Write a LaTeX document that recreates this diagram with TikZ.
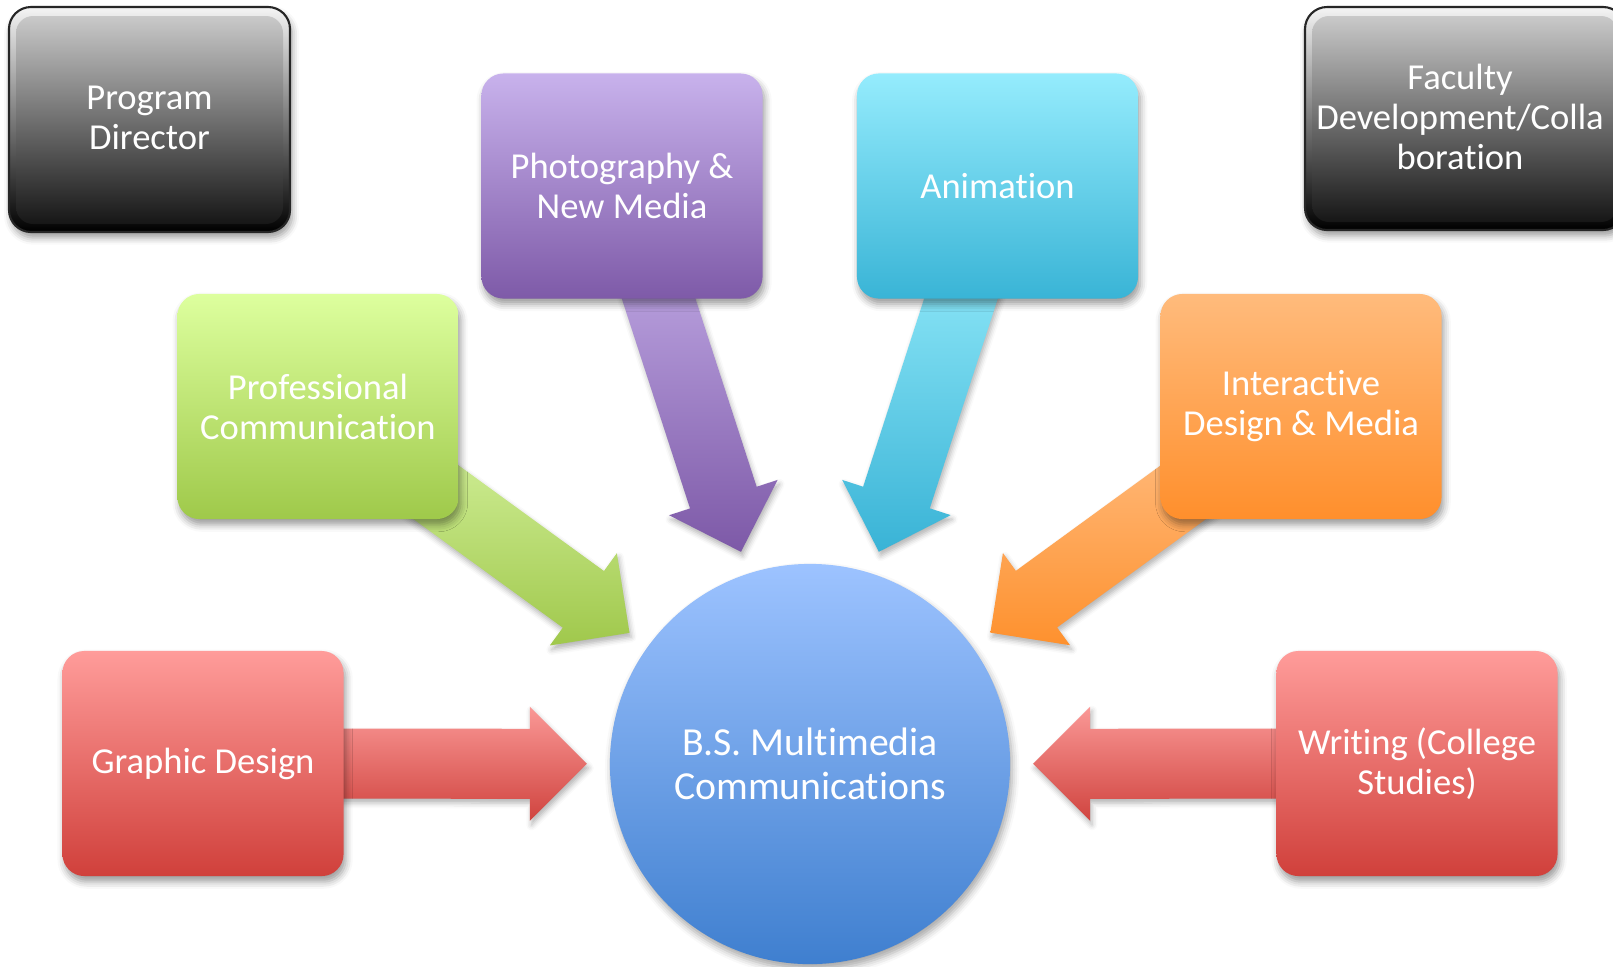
\documentclass[tikz,border=0pt]{standalone}
\usepackage{fontspec}
\newfontfamily\labelfont[Ligatures={NoCommon,NoContextual},Contextuals=NoAlternate]{Carlito}
\usetikzlibrary{calc,shadows.blur,backgrounds}

% box colours
\definecolor{grnTop}{HTML}{DDFF9E}\definecolor{grnBot}{HTML}{9FC94A}
\definecolor{purTop}{HTML}{C8B2EC}\definecolor{purBot}{HTML}{7E5AA8}
\definecolor{cyaTop}{HTML}{95ECFD}\definecolor{cyaBot}{HTML}{39B4D6}
\definecolor{orgTop}{HTML}{FFBB7C}\definecolor{orgBot}{HTML}{FF8F2C}
\definecolor{redTop}{HTML}{FF9C9A}\definecolor{redBot}{HTML}{D0403B}
\definecolor{hubTop}{HTML}{9DC3FF}\definecolor{hubBot}{HTML}{3F7FCF}
% arrow colours
\definecolor{grnArrTop}{HTML}{D2F09A}\definecolor{grnArrBot}{HTML}{A0C84C}
\definecolor{purArrTop}{HTML}{BBA3E0}\definecolor{purArrBot}{HTML}{7D59A7}
\definecolor{cyaArrTop}{HTML}{8CE6F7}\definecolor{cyaArrBot}{HTML}{39B3D6}
\definecolor{orgArrTop}{HTML}{FFBB7E}\definecolor{orgArrBot}{HTML}{FE912E}
\definecolor{redArrTop}{HTML}{FA9896}\definecolor{redArrBot}{HTML}{D0443F}
% bevelled dark boxes
\definecolor{rimTop}{HTML}{F4F4F4}\definecolor{rimBot}{HTML}{000000}
\definecolor{faceTop}{HTML}{C9C9C9}\definecolor{faceBot}{HTML}{161616}

% block arrow from a box towards the hub
\newcommand\feeder[3]{%
  \coordinate (ft) at ($(hub.center)!2.23cm!(#1.center)$);
  \coordinate (fb) at ($(ft)!0.57cm!(#1.center)$);
  \coordinate (fs) at ($(#1.center)!0.25!(ft)$);
  \path[arrowbody, top color=#2, bottom color=#3]
    ($(fs)!0.35cm!90:(ft)$) -- ($(fb)!0.35cm!90:(ft)$) -- ($(fb)!0.57cm!90:(ft)$)
    -- (ft) -- ($(fb)!0.57cm!-90:(ft)$) -- ($(fb)!0.35cm!-90:(ft)$)
    -- ($(fs)!0.35cm!-90:(ft)$) -- cycle;
}
% bevelled dark panel
\newcommand\bevelpanel[4]{%
  \path[rounded corners=0.22cm, top color=rimTop, bottom color=rimBot,
        draw=black!85, line width=0.6pt,
        blur shadow={shadow xshift=0.6pt, shadow yshift=-1.6pt, shadow opacity=40, shadow blur radius=2pt}]
    (#1,#2) rectangle (#3,#4);
  \path[rounded corners=0.17cm, top color=faceTop, bottom color=faceBot]
    (#1+7,#2+9) rectangle (#3-7,#4-8);
}

\begin{document}
\begin{tikzpicture}[x=0.01cm, y=-0.01cm,
  txt/.style={text=white, align=center, inner sep=0pt,
              font=\labelfont\fontsize{10.4}{11.4}\selectfont},
  box/.style={txt, rounded corners=0.22cm, minimum width=2.81cm, minimum height=2.25cm,
              blur shadow={shadow xshift=0.6pt, shadow yshift=-1.6pt, shadow opacity=40, shadow blur radius=2pt}},
  darklabel/.style={txt, minimum width=2.81cm, minimum height=2.25cm},
  hubnode/.style={circle, minimum size=4cm, inner sep=0pt, text=white, align=center,
              top color=hubTop, bottom color=hubBot,
              font=\labelfont\fontsize{11.3}{12.6}\selectfont,
              blur shadow={shadow xshift=0.6pt, shadow yshift=-1.6pt, shadow opacity=35, shadow blur radius=2pt}},
  arrowbody/.style={blur shadow={shadow xshift=0.5pt, shadow yshift=-1.2pt, shadow opacity=30, shadow blur radius=1.5pt}}
]
\useasboundingbox (0,0) rectangle (1613,966);
\clip (0,0) rectangle (1613,966);

% dark panels in the top corners
\bevelpanel{9}{7}{290}{232}
\bevelpanel{1305}{7}{1625}{230}
\node[darklabel] (director) at (149.5,117.5) {Program\\Director};
\node[darklabel] (faculty) at (1460,117) {Faculty\\Development/Colla\\boration};

% central hub
\node[hubnode] (hub) at (810,764) {B.S. Multimedia\\Communications};

% feeding disciplines
\node[box, top color=grnTop, bottom color=grnBot] (prof)    at (318,406.5)  {Professional\\Communication};
\node[box, top color=purTop, bottom color=purBot] (photo)   at (622,186)    {Photography \&\\New Media};
\node[box, top color=cyaTop, bottom color=cyaBot] (anim)    at (997.5,186)  {Animation};
\node[box, top color=orgTop, bottom color=orgBot] (inter)   at (1301,406.5) {Interactive\\Design \& Media};
\node[box, top color=redTop, bottom color=redBot] (graphic) at (203,763.5)  {Graphic Design};
\node[box, top color=redTop, bottom color=redBot] (writing) at (1417,763.5) {Writing (College\\Studies)};

% block arrows behind the boxes
\begin{pgfonlayer}{background}
  \feeder{prof}{grnArrTop}{grnArrBot}
  \feeder{photo}{purArrTop}{purArrBot}
  \feeder{anim}{cyaArrTop}{cyaArrBot}
  \feeder{inter}{orgArrTop}{orgArrBot}
  \feeder{graphic}{redArrTop}{redArrBot}
  \feeder{writing}{redArrTop}{redArrBot}
\end{pgfonlayer}
\end{tikzpicture}
\end{document}
